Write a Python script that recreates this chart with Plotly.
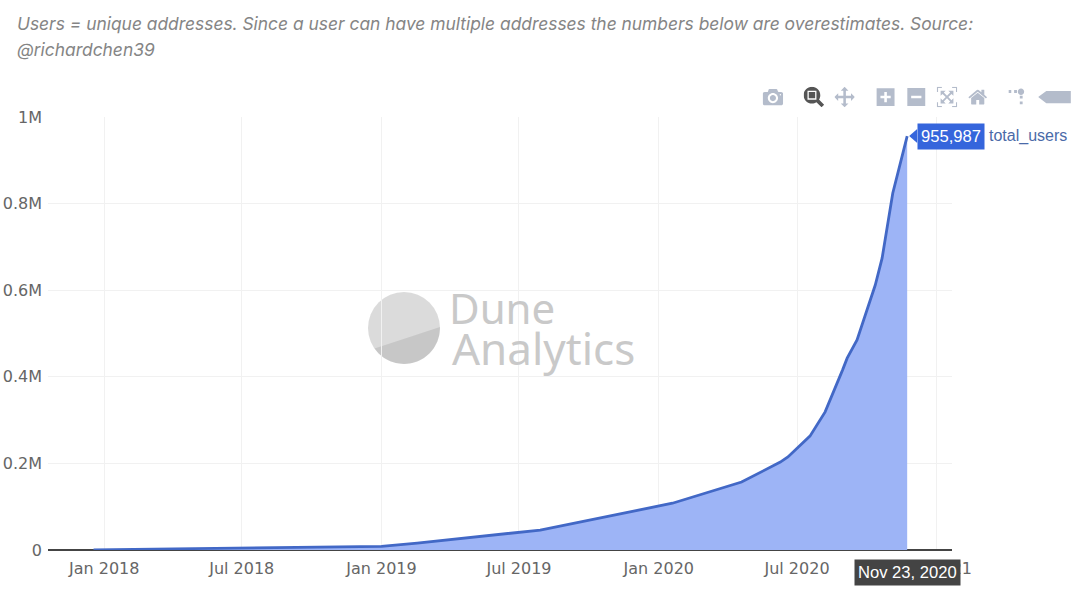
import plotly.graph_objects as go

# values
dates = ["2017-12-18", "2018-07-01", "2019-01-01", "2019-02-17", "2019-07-29", "2020-01-19",
         "2020-03-17", "2020-04-19", "2020-06-09", "2020-06-19", "2020-07-18", "2020-08-07",
         "2020-08-30", "2020-09-05", "2020-09-18", "2020-10-12", "2020-10-21", "2020-11-04",
         "2020-11-23"]
total_users = [500, 4500, 8500, 16000, 46000, 108000,
               139000, 157000, 203000, 215000, 263000, 319000,
               416000, 443000, 485000, 612000, 674000, 824000,
               955987]
y_ticks = [0, 200000, 400000, 600000, 800000, 1000000]
y_tick_labels = ["0", "0.2M", "0.4M", "0.6M", "0.8M", "1M"]
x_ticks = ["2018-01-01", "2018-07-01", "2019-01-01", "2019-07-01", "2020-01-01", "2020-07-01", "2021-01-01"]
x_tick_labels = ["Jan 2018", "Jul 2018", "Jan 2019", "Jul 2019", "Jan 2020", "Jul 2020", "Jan 2021"]

subtitle_1 = "Users = unique addresses. Since a user can have multiple addresses the numbers below are overestimates. Source:"
subtitle_2 = "@richardchen39"

fig = go.Figure()

fig.add_trace(go.Scatter(
    x=dates,
    y=total_users,
    mode="lines",
    name="total_users",
    fill="tozeroy",
    fillcolor="#9db4f6",
    line=dict(color="#4268c6", width=2.8),
))

# hover labels as they were frozen in the screenshot
hover_font = "Liberation Sans"
fig.add_annotation(x=dates[-1], y=total_users[-1], text="955,987", showarrow=False,
                   xanchor="left", xshift=10, bgcolor="#3565dc", borderpad=3,
                   font=dict(family=hover_font, size=16.6, color="white"))
fig.add_annotation(x=dates[-1], y=total_users[-1], text="total_users", showarrow=False,
                   xanchor="left", xshift=80,
                   font=dict(family=hover_font, size=16, color="#4a6aa8"))
fig.add_annotation(x=dates[-1], y=0, text="Nov 23, 2020", showarrow=False,
                   yanchor="top", yshift=-9, bgcolor="#444444", borderpad=3,
                   font=dict(family=hover_font, size=16.6, color="white"))
fig.add_shape(type="path", xsizemode="pixel", ysizemode="pixel", xanchor=dates[-1], yanchor=total_users[-1],
              path="M 2 0 L 10 -7 L 10 7 Z", fillcolor="#3565dc", line_width=0)
fig.add_shape(type="path", xsizemode="pixel", ysizemode="pixel", xanchor=dates[-1], yanchor=0,
              path="M 0 -2 L -7 -10 L 7 -10 Z", fillcolor="#444444", line_width=0)

# subtitle above the chart
for text, y in [(subtitle_1, 1.217), (subtitle_2, 1.155)]:
    fig.add_annotation(text=text, xref="paper", yref="paper", x=-0.0365, y=y, xanchor="left", yanchor="middle",
                       showarrow=False, font=dict(family="Inter", size=17.4, color="#858585", style="italic"))

# Dune watermark
fig.add_shape(type="circle", xref="paper", yref="paper", xsizemode="pixel", ysizemode="pixel",
              xanchor=0.3938, yanchor=0.5127, x0=-36, x1=36, y0=-36, y1=36,
              fillcolor="rgba(0,0,0,0.14)", line_width=0, layer="below")
fig.add_shape(type="path", xref="paper", yref="paper", xsizemode="pixel", ysizemode="pixel",
              xanchor=0.3938, yanchor=0.5127,
              path="M -29.5 -20.6 C -20.3 -33.7 -3.9 -39.2 11.3 -34.2 C 26.5 -29.2 36.4 -15 36 1 Z",
              fillcolor="rgba(0,0,0,0.09)", line_width=0, layer="below")
fig.add_annotation(text="Dune", xref="paper", yref="paper", x=0.441, y=0.56, xanchor="left", yanchor="middle",
                   showarrow=False, font=dict(family="Noto Sans", size=42, color="#c9c9c9"))
fig.add_annotation(text="Analytics", xref="paper", yref="paper", x=0.4445, y=0.466, xanchor="left", yanchor="middle",
                   showarrow=False, font=dict(family="Noto Sans", size=44, color="#c9c9c9"))

fig.update_layout(
    width=1080,
    height=597,
    margin=dict(l=48, r=128, t=117, b=47),
    paper_bgcolor="white",
    plot_bgcolor="white",
    showlegend=False,
    font=dict(family="DejaVu Sans", size=16, color="#666666"),
    modebar=dict(bgcolor="rgba(0,0,0,0)", color="#b4bccb", activecolor="#555555"),
    xaxis=dict(
        range=["2017-10-19", "2021-01-21"],
        tickvals=x_ticks,
        ticktext=x_tick_labels,
        showgrid=True,
        gridcolor="#f1f1f1",
        zeroline=False,
        ticks="",
        ticklabelstandoff=7,
        automargin=False,
    ),
    yaxis=dict(
        range=[0, 1000000],
        tickvals=y_ticks,
        ticktext=y_tick_labels,
        showgrid=True,
        gridcolor="#f1f1f1",
        showline=False,
        zeroline=True,
        zerolinecolor="#444444",
        zerolinewidth=1.5,
        ticks="",
        ticklabelstandoff=5,
        automargin=False,
    ),
)

# page margin off, modebar bigger and lower like the screenshot
css = ("body{margin:0!important}"
       ".modebar{top:83px!important;right:5px!important;transform:scale(1.28);transform-origin:right top}"
       ".modebar-btn[data-attr='hovermode'] path{fill:#b4bccb!important}"
       ".modebar-btn[data-attr='hovermode'] svg{transform:translateX(-4px) scale(1.6,1.2)}")
post_script = 'var s=document.createElement("style");s.textContent="' + css + '";document.head.appendChild(s);'

fig.write_html("out.html", post_script=post_script, config=dict(
    displayModeBar=True,
    displaylogo=False,
    modeBarButtons=[
        ["toImage"],
        ["zoom2d", "pan2d"],
        ["zoomIn2d", "zoomOut2d", "autoScale2d", "resetScale2d"],
        ["toggleSpikelines"],
        ["hoverClosestCartesian"],
    ],
))
